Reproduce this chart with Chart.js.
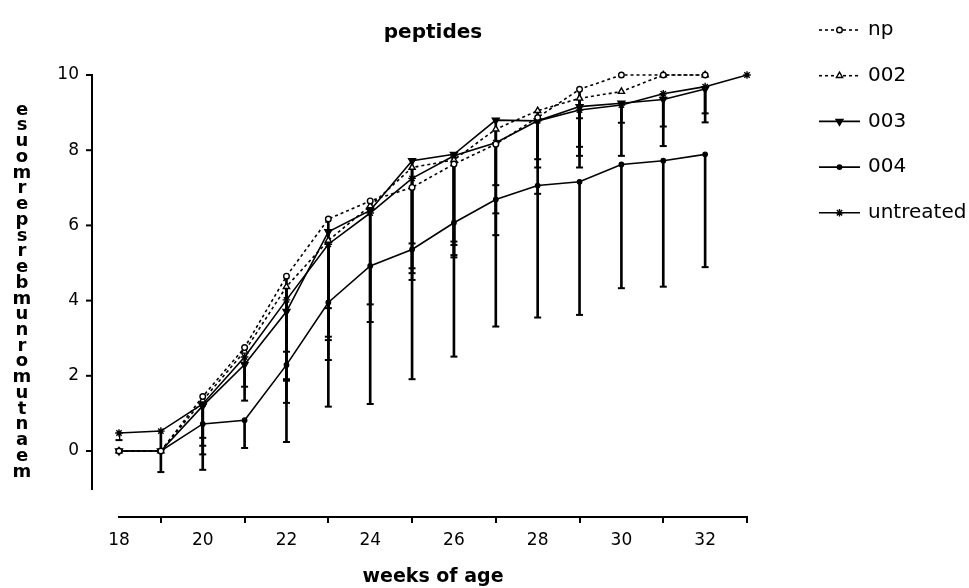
<!DOCTYPE html>
<html><head><meta charset="utf-8">
<script src="https://cdn.jsdelivr.net/npm/chart.js@4.4.1/dist/chart.umd.min.js"></script>
<style>html,body{margin:0;padding:0;background:#fff;}canvas{display:block;}</style>
</head><body>
<canvas id="c" width="969" height="588"></canvas>
<script>
// ---- data ----
const weeks = [18,19,20,21,22,23,24,25,26,27,28,29,30,31,32,33];
const xTicks = [18,20,22,24,26,28,30,32];
const yTicks = [0,2,4,6,8,10];
const seriesNames = ['np','002','003','004','untreated'];

const npVals        = [0,0,1.45,2.75,4.65,6.17,6.65,7.01,7.63,8.16,8.87,9.62,10,10,10,null];
const s002Vals      = [0,0,1.35,2.65,4.37,5.60,6.52,7.54,7.74,8.56,9.05,9.38,9.56,10,10,null];
const s003Vals      = [0,0,1.20,2.30,3.71,5.83,6.40,7.72,7.89,8.80,8.78,9.16,9.25,9.35,9.63,null];
const s004Vals      = [0,0,0.72,0.82,2.29,3.95,4.92,5.36,6.07,6.69,7.06,7.16,7.62,7.72,7.89,null];
const untreatedVals = [0.48,0.53,1.25,2.50,4.02,5.50,6.33,7.25,7.85,8.20,8.78,9.07,9.20,9.50,9.69,10];

// lower ends of the (one-sided) error bars
const npLow        = [null,null,null,null,2.64,3.80,null,5.52,5.57,null,null,8.85,null,null,null,null];
const s002Low      = [null,null,0.35,null,1.91,3.04,null,4.86,5.48,7.07,7.76,8.09,null,null,null,null];
const s003Low      = [null,null,-0.09,1.34,1.28,2.42,3.43,4.55,5.15,5.74,6.84,7.54,7.85,8.11,8.74,null];
const s004Low      = [null,null,-0.50,0.08,0.24,1.18,1.25,1.91,2.51,3.31,3.55,3.62,4.33,4.37,4.89,null];
const untreatedLow = [0.29,-0.56,0.14,1.71,1.87,2.95,3.90,4.73,5.21,6.32,7.54,7.85,8.73,8.63,8.98,null];

const yAxisBottom = -1.04;
const yMin = -1.755, yMax = 10;
const yTitleText = 'mean tumor numbers per mouse';

// ---- styles ----
const styles = [
  {dash:[3,3], pointStyle:'circle',   radius:2.8, rotation:0,   fill:'#fff'},
  {dash:[3,3], pointStyle:'triangle', radius:3.6, rotation:0,   fill:'#fff'},
  {dash:[],    pointStyle:'triangle', radius:4,   rotation:180, fill:'#000'},
  {dash:[],    pointStyle:'circle',   radius:2.2, rotation:0,   fill:'#000'},
  {dash:[],    pointStyle:'star',     radius:3.8, rotation:0,   fill:'#000'}
];
const allVals = [npVals,s002Vals,s003Vals,s004Vals,untreatedVals];
const allLows = [npLow,s002Low,s003Low,s004Low,untreatedLow];

Chart.defaults.font.family = '"DejaVu Sans"';
Chart.defaults.color = '#000';

const datasets = [];
seriesNames.forEach((name,i) => {
  const vals = allVals[i], lows = allLows[i], st = styles[i];
  const pts = [], bars = [], caps = [];
  weeks.forEach((w,j) => {
    if (vals[j] != null) pts.push({x:w, y:vals[j]});
    if (lows[j] != null && vals[j] != null) {
      bars.push({x:w, y:[lows[j], vals[j]]});
      caps.push({x:w, y:lows[j]});
    }
  });
  datasets.push({type:'bar', label:name+' sd', data:bars, backgroundColor:'#000', borderWidth:0,
    barThickness:2, grouped:false, order:3});
  datasets.push({type:'line', label:name+' cap', data:caps, showLine:false, pointStyle:'line',
    pointRadius:3.5, pointBorderWidth:2, borderColor:'#000', backgroundColor:'#000', order:2, clip:false});
  datasets.push({type:'line', label:name, data:pts, borderColor:'#000', borderWidth:1.6,
    borderDash:st.dash, tension:0, fill:false, pointStyle:st.pointStyle, pointRadius:st.radius,
    pointRotation:st.rotation, pointBackgroundColor:st.fill, pointBorderColor:'#000',
    pointBorderWidth:1.4, order:1, clip:false});
});

const axisPlugin = {
  id:'yAxisLine',
  afterDraw(chart){
    const {ctx, scales:{y}, chartArea} = chart;
    const x = chartArea.left - 27;
    ctx.save();
    ctx.strokeStyle = '#000'; ctx.lineWidth = 2;
    ctx.beginPath();
    ctx.moveTo(x, y.getPixelForValue(yTicks[yTicks.length-1]) - 1);
    ctx.lineTo(x, y.getPixelForValue(yAxisBottom));
    ctx.stroke();
    yTicks.forEach(v => {
      const py = y.getPixelForValue(v);
      ctx.beginPath(); ctx.moveTo(x-6, py); ctx.lineTo(x, py); ctx.stroke();
    });
    // stacked y title (letters upright, read bottom to top, spaces collapsed)
    const chars = [...yTitleText].filter(c => c !== ' ').reverse();
    const top = 110, bottom = 472, step = (bottom-top)/(chars.length-1);
    ctx.fillStyle = '#000';
    ctx.font = 'bold 18px "DejaVu Sans"';
    ctx.textAlign = 'center'; ctx.textBaseline = 'middle';
    chars.forEach((ch,k) => ctx.fillText(ch, 22, top + k*step));
    ctx.restore();
  }
};

const legendPlugin = {
  id:'customLegend',
  afterDraw(chart){
    const ctx = chart.ctx;
    const x0 = chart.chartArea.right + 72, x1 = x0 + 41, xm = (x0+x1)/2, tx = x1 + 8;
    seriesNames.forEach((name,i) => {
      const st = styles[i];
      const y = 30 + i*45.7;
      ctx.save();
      ctx.strokeStyle = '#000'; ctx.lineWidth = 1.6;
      ctx.setLineDash(st.dash);
      ctx.beginPath(); ctx.moveTo(x0, y); ctx.lineTo(x1, y); ctx.stroke();
      ctx.setLineDash([]);
      ctx.fillStyle = st.fill; ctx.strokeStyle = '#000'; ctx.lineWidth = 1.4;
      if (Chart.helpers && Chart.helpers.drawPoint) {
        Chart.helpers.drawPoint(ctx, {pointStyle:st.pointStyle, radius:st.radius, rotation:st.rotation, borderWidth:1.4}, xm, y);
      } else {
        ctx.beginPath(); ctx.arc(xm, y, st.radius, 0, Math.PI*2); ctx.fill(); ctx.stroke();
      }
      ctx.fillStyle = '#000';
      ctx.font = '20px "DejaVu Sans"';
      ctx.textAlign = 'left'; ctx.textBaseline = 'middle';
      ctx.fillText(name, tx, y);
      ctx.restore();
    });
  }
};

new Chart(document.getElementById('c'), {
  type:'line',
  data:{datasets},
  options:{
    responsive:false, animation:false, devicePixelRatio:1,
    layout:{padding:{left:0, right:222, top:0, bottom:0}},
    plugins:{
      legend:{display:false}, tooltip:{enabled:false},
      title:{display:true, text:'peptides', fullSize:false, color:'#000',
        font:{size:20, weight:'bold', lineHeight:1.2}, padding:{top:21, bottom:30}}
    },
    scales:{
      x:{type:'linear', min:18, max:33, offset:false,
        afterBuildTicks:s => { s.ticks = xTicks.map(v => ({value:v})); },
        afterFit:s => { s.height = 71; },
        border:{display:true, color:'#000', width:2},
        grid:{display:true, drawOnChartArea:false, drawTicks:true, tickLength:6, color:'#000', lineWidth:2},
        ticks:{font:{size:17}, color:'#000', padding:7, maxRotation:0},
        title:{display:true, text:'weeks of age', color:'#000',
          font:{size:19, weight:'bold', lineHeight:1}, padding:{top:0, bottom:1}}
      },
      y:{type:'linear', min:yMin, max:yMax,
        afterBuildTicks:s => { s.ticks = yTicks.map(v => ({value:v})); },
        afterFit:s => { s.width = 119; },
        border:{display:false},
        grid:{display:false, drawTicks:false},
        ticks:{font:{size:17}, color:'#000', padding:40}
      }
    }
  },
  plugins:[axisPlugin, legendPlugin]
});
</script>
</body></html>
